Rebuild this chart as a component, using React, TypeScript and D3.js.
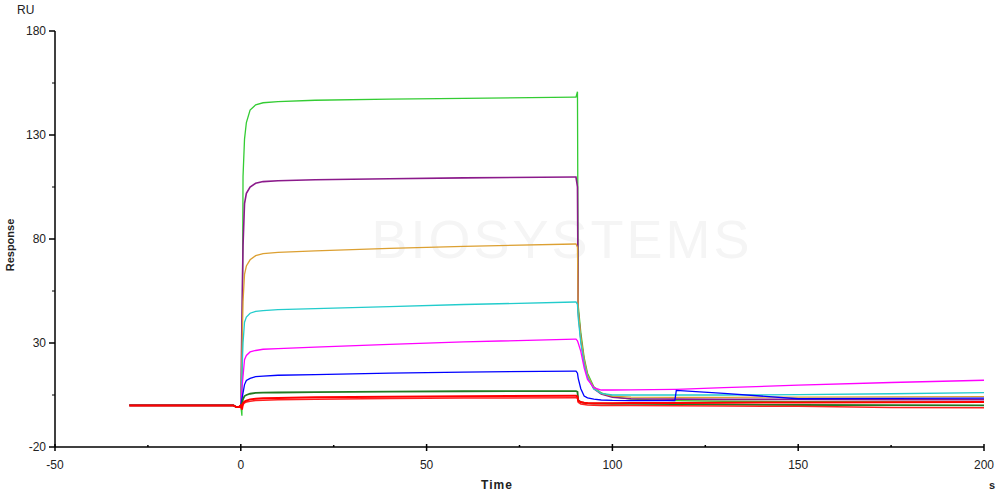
import React from "react";
import * as d3 from "d3";

const W = 1000;
const H = 493;

// axis ticks
const xTicks = [-50, 0, 50, 100, 150, 200];
const xMinor = [-25, 25, 75, 125, 175];
const yTicks = [-20, 30, 80, 130, 180];
const yMinor = [5, 55, 105, 155];

// baseline phase
const baseT = [-30, -2, -1.2, -0.5, 0];
const baseV = [0, 0, -0.8, -0.8, 0];

// association phase
const assocT = [0, 0.3, 0.6, 1, 1.5, 2.5, 4, 6, 10, 20, 40, 60, 90];
// dissociation phase
const dissT = [90.2, 90.6, 90.8, 91.5, 92.4, 93.3, 95, 97, 100, 105, 116.8, 117.2, 130, 150, 175, 200];

const greenA = [0, -5, 110, 128, 136, 142, 144.5, 145.5, 146, 146.7, 147.2, 147.6, 148.2];
const greenD = [148.2, 150.8, 48, 35, 23, 15.5, 9, 6, 4.2, 3, 2.3, 2.3, 2, 1.8, 1.7, 1.6];
const purpleA = [0, 40, 77, 97, 102, 105, 106.8, 107.6, 108, 108.5, 109, 109.4, 109.8];
const purpleD = [109.8, 105, 45, 32, 21, 14, 8, 5.5, 3.9, 3.2, 3, 3, 2.9, 2.9, 2.8, 2.8];
const orangeA = [0, 25, 50, 63, 67, 70, 72, 73, 73.6, 74.3, 75.5, 76.5, 77.6];
const orangeD = [77.6, 76, 46, 33, 22, 14.5, 8.5, 5.8, 4.5, 4, 3.9, 3.9, 3.9, 4, 4.1, 4.2];
const cyanA = [0, 15, 30, 40, 42.5, 44.3, 45.2, 45.6, 46, 46.5, 47.5, 48.5, 49.7];
const cyanD = [49.7, 48.5, 42, 30, 20, 13.5, 8, 5.8, 5, 5, 5, 5, 5, 5.2, 5.6, 6.1];
const magentaA = [0, 8, 14, 22, 24, 25.7, 26.4, 27, 27.3, 28, 29.3, 30.5, 31.9];
const magentaD = [31.9, 31, 30, 26, 18, 12.5, 8.5, 7.4, 7.4, 7.5, 7.7, 7.7, 8.5, 9.7, 11, 12.1];
const blueA = [0, 3, 6, 10, 12, 13, 13.8, 14.1, 14.5, 14.8, 15.5, 16, 16.5];
const blueD = [16.5, 15.5, 13, 8, 4.5, 3.6, 3, 2.6, 2.4, 2.3, 2.3, 7.2, 5.8, 3.2, 3.4, 3.5];
const dkgreenA = [0, 1, 3, 4.5, 5, 5.6, 6, 6.1, 6.2, 6.4, 6.6, 6.8, 6.9];
const dkgreenD = [6.9, 6.5, 2.5, 1.5, 1.2, 1, 0.9, 0.9, 0.8, 0.8, 0.6, 0.6, 0.4, 0.2, 0.1, 0];
const redA = [0, -2, 1, 1.8, 2.3, 2.9, 3.2, 3.4, 3.6, 3.9, 4.2, 4.4, 4.6];
const redD = [4.6, 4.3, 2.2, 1.6, 1.3, 1.1, 1.0, 1.0, 1.0, 1.1, 1.2, 1.2, 1.3, 1.4, 1.5, 1.6];
const red2A = [0, -1, 0.5, 1.2, 1.6, 2, 2.3, 2.5, 2.7, 3, 3.3, 3.5, 3.7];
const red2D = [3.7, 3.5, 1.5, 0.7, 0.4, 0.2, 0.1, 0, 0, -0.1, -0.2, -0.2, -0.3, -0.4, -1.0, -1.1];

const series = [
  { name: "green", color: "#33cc33", a: greenA, d: greenD, w: 1.3 },
  { name: "purple", color: "#8b1a8b", a: purpleA, d: purpleD, w: 1.6 },
  { name: "orange", color: "#dca032", a: orangeA, d: orangeD, w: 1.3 },
  { name: "cyan", color: "#22cccc", a: cyanA, d: cyanD, w: 1.3 },
  { name: "magenta", color: "#ff00ff", a: magentaA, d: magentaD, w: 1.3 },
  { name: "blue", color: "#0000ff", a: blueA, d: blueD, w: 1.3 },
  { name: "dkgreen", color: "#217a21", a: dkgreenA, d: dkgreenD, w: 1.8 },
  { name: "red2", color: "#ff2020", a: red2A, d: red2D, w: 1.5 },
  { name: "red", color: "#ff0000", a: redA, d: redD, w: 2 },
];

const x = d3.scaleLinear().domain([-50, 200]).range([55, 984]);
const y = d3.scaleLinear().domain([-20, 180]).range([447, 31]);

export default function App() {
  const line = d3
    .line<[number, number]>()
    .x((p) => x(p[0]))
    .y((p) => y(p[1]));
  const font = "'Liberation Sans', Arial, sans-serif";
  return (
    <svg
      width={W}
      height={H}
      style={{ position: "absolute", left: 0, top: 0, background: "#fff" }}
      fontFamily={font}
    >
      <text x={562} y={258} fontSize={54} fill="#f5f5f5" textAnchor="middle" letterSpacing={3}>
        BIOSYSTEMS
      </text>
      {series.map((s) => {
        const pts: [number, number][] = [];
        baseT.forEach((t, i) => pts.push([t, baseV[i]]));
        assocT.forEach((t, i) => i > 0 && pts.push([t, s.a[i]]));
        dissT.forEach((t, i) => pts.push([t, s.d[i]]));
        return (
          <path key={s.name} d={line(pts) || ""} fill="none" stroke={s.color} strokeWidth={s.w} />
        );
      })}
      {/* axes */}
      <line x1={x(-50)} x2={x(-50)} y1={y(180)} y2={y(-20)} stroke="#000" strokeWidth={1.5} />
      <line x1={x(-50)} x2={x(200)} y1={y(-20)} y2={y(-20)} stroke="#000" strokeWidth={1.5} />
      {yTicks.map((t) => (
        <g key={"yt" + t}>
          <line x1={x(-50) - 6} x2={x(-50)} y1={y(t)} y2={y(t)} stroke="#000" strokeWidth={1.5} />
          <text x={x(-50) - 9} y={y(t) + 4} fontSize={12} textAnchor="end" fill="#222">
            {t}
          </text>
        </g>
      ))}
      {yMinor.map((t) => (
        <line key={"ym" + t} x1={x(-50) - 3} x2={x(-50)} y1={y(t)} y2={y(t)} stroke="#000" strokeWidth={1} />
      ))}
      {xTicks.map((t) => (
        <g key={"xt" + t}>
          <line x1={x(t)} x2={x(t)} y1={y(-20) - 3} y2={y(-20) + 4} stroke="#000" strokeWidth={1.5} />
          <text x={x(t)} y={y(-20) + 22} fontSize={12} textAnchor="middle" fill="#222">
            {t}
          </text>
        </g>
      ))}
      {xMinor.map((t) => (
        <line key={"xm" + t} x1={x(t)} x2={x(t)} y1={y(-20) - 2} y2={y(-20)} stroke="#000" strokeWidth={1.5} />
      ))}
      <text x={17} y={14} fontSize={12} fill="#222">RU</text>
      <text
        transform="translate(14,245) rotate(-90)"
        fontSize={11}
        fontWeight="bold"
        textAnchor="middle"
        fill="#222"
      >
        Response
      </text>
      <text x={497} y={489} fontSize={12} fontWeight="bold" textAnchor="middle" fill="#222" letterSpacing={1}>
        Time
      </text>
      <text x={992} y={489} fontSize={11} fontWeight="bold" textAnchor="middle" fill="#222">
        s
      </text>
    </svg>
  );
}
